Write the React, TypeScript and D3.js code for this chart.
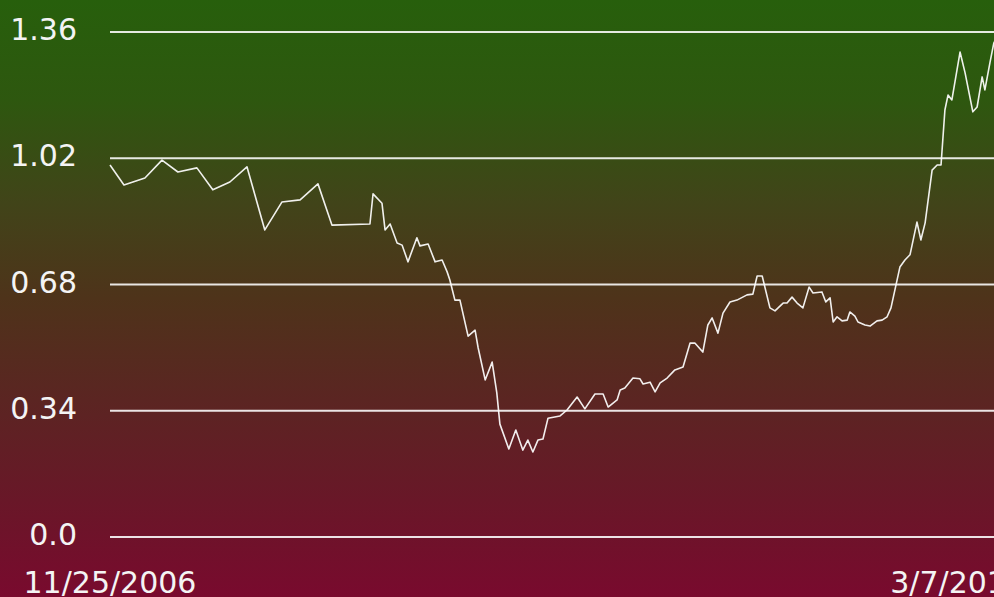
import React from "react";
import * as d3 from "d3";

const WIDTH = 994;
const HEIGHT = 597;

const START_DATE = "2006-11-25";
const END_DATE = "2013-03-07";

const yTicks = [0, 0.34, 0.68, 1.02, 1.36];
const yTickLabels = ["0.0", "0.34", "0.68", "1.02", "1.36"];
const xTickLabels = ["11/25/2006", "3/7/2013"];

// days since 11/25/2006
const dayOffsets = [
  0, 36, 90, 134, 175, 224, 265, 309, 353, 399, 443, 490, 536, 572, 670, 678, 701, 709, 722, 740,
  753, 768, 791, 799, 820, 838, 856, 869, 876, 889, 902, 923, 941, 949, 967, 985, 997, 1005, 1028, 1046,
  1064, 1077, 1090, 1103, 1116, 1129, 1160, 1178, 1204, 1224, 1250, 1271, 1284, 1307, 1315, 1327, 1348, 1366, 1374, 1392,
  1405, 1418, 1436, 1456, 1477, 1495, 1508, 1528, 1541, 1552, 1567, 1580, 1598, 1616, 1642, 1657, 1668, 1681, 1701, 1714,
  1735, 1745, 1758, 1771, 1786, 1802, 1812, 1835, 1845, 1856, 1864, 1874, 1887, 1900, 1907, 1920, 1928, 1946, 1959, 1977,
  1990, 2003, 2013, 2023, 2036, 2049, 2062, 2080, 2090, 2101, 2119, 2132, 2142, 2152, 2160, 2170, 2191, 2204, 2224, 2235,
  2248, 2255, 2268, 2278, 2294,
];

const values = [
  1.002, 0.948, 0.967, 1.015, 0.983, 0.994, 0.935, 0.956, 0.997, 0.827, 0.902, 0.908, 0.951, 0.84, 0.843, 0.924, 0.899, 0.827, 0.843, 0.792,
  0.786, 0.741, 0.806, 0.784, 0.789, 0.741, 0.746, 0.714, 0.692, 0.638, 0.638, 0.541, 0.557, 0.509, 0.423, 0.471, 0.388, 0.304, 0.237, 0.288,
  0.234, 0.261, 0.229, 0.261, 0.264, 0.32, 0.326, 0.342, 0.377, 0.345, 0.385, 0.385, 0.35, 0.369, 0.396, 0.401, 0.428, 0.426, 0.412, 0.417,
  0.391, 0.415, 0.428, 0.45, 0.458, 0.522, 0.522, 0.498, 0.571, 0.59, 0.549, 0.603, 0.633, 0.638, 0.652, 0.654, 0.703, 0.703, 0.617, 0.609,
  0.63, 0.63, 0.646, 0.63, 0.617, 0.673, 0.657, 0.66, 0.633, 0.644, 0.579, 0.593, 0.582, 0.584, 0.606, 0.595, 0.579, 0.571, 0.568, 0.582,
  0.584, 0.593, 0.617, 0.665, 0.727, 0.746, 0.76, 0.848, 0.8, 0.846, 0.988, 1.002, 1.002, 1.15, 1.19, 1.177, 1.306, 1.25, 1.145, 1.158,
  1.239, 1.204, 1.277, 1.33, 1.36,
];

const bgStops = [
  { offset: 0, color: "#275f0c" },
  { offset: 0.17, color: "#2e570f" },
  { offset: 0.34, color: "#414419" },
  { offset: 0.5, color: "#4e331a" },
  { offset: 0.67, color: "#5b2522" },
  { offset: 0.84, color: "#691728" },
  { offset: 1, color: "#790a2e" },
];

export default function App() {
  const parse = d3.timeParse("%Y-%m-%d");
  const start = parse(START_DATE) as Date;
  const end = parse(END_DATE) as Date;

  const x = d3.scaleTime().domain([start, end]).range([110, 1000]);
  const y = d3.scaleLinear().domain([0, 1.36]).range([537, 32]);

  const data = dayOffsets.map((d, i) => ({ date: d3.timeDay.offset(start, d), value: values[i] }));

  const line = d3
    .line<{ date: Date; value: number }>()
    .x((d) => x(d.date))
    .y((d) => y(d.value));

  const font = "'DejaVu Sans', sans-serif";

  return (
    <svg
      width={WIDTH}
      height={HEIGHT}
      style={{ position: "absolute", left: 0, top: 0, overflow: "hidden" }}
    >
      <defs>
        <linearGradient id="bg" x1="0" y1="0" x2="0" y2="1">
          {bgStops.map((s) => (
            <stop key={s.offset} offset={s.offset} stopColor={s.color} />
          ))}
        </linearGradient>
      </defs>
      <rect x={0} y={0} width={WIDTH} height={HEIGHT} fill="url(#bg)" />
      {yTicks.map((t, i) => (
        <g key={t}>
          <line x1={110} x2={1040} y1={y(t)} y2={y(t)} stroke="#ffffff" strokeOpacity={0.88} strokeWidth={2} />
          <text
            x={77}
            y={y(t) + 8}
            textAnchor="end"
            fill="#f4f4f4"
            fontFamily={font}
            fontSize={30}
          >
            {yTickLabels[i]}
          </text>
        </g>
      ))}
      <path d={line(data) || ""} fill="none" stroke="#ffffff" strokeOpacity={0.92} strokeWidth={1.6} strokeLinejoin="round" />
      <text x={x(start)} y={593} textAnchor="middle" fill="#f4f4f4" fontFamily={font} fontSize={30}>
        {xTickLabels[0]}
      </text>
      <text x={1025} y={593} textAnchor="end" fill="#f4f4f4" fontFamily={font} fontSize={30}>
        {xTickLabels[1]}
      </text>
    </svg>
  );
}
